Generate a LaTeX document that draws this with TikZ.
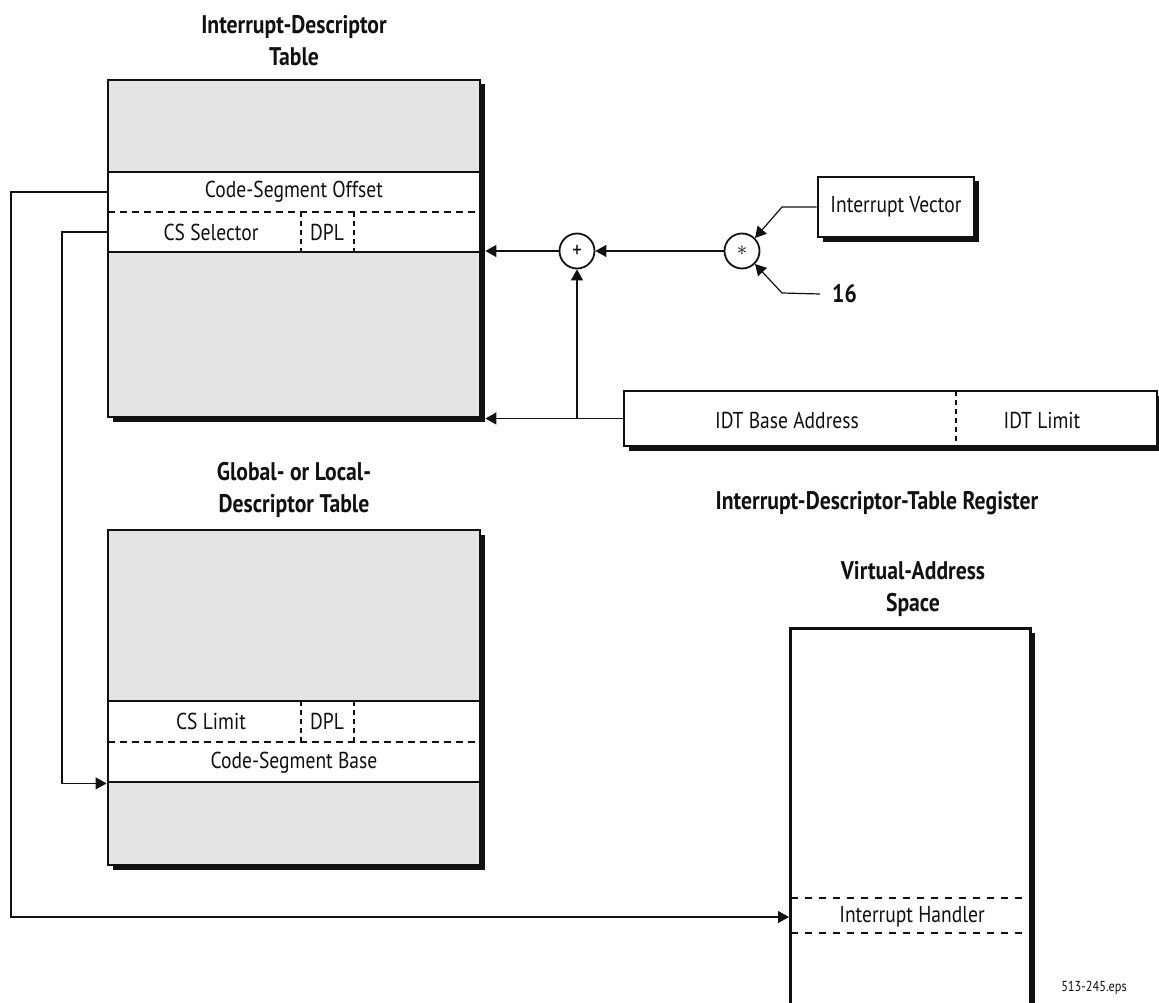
\documentclass[tikz,border=0pt]{standalone}
\usepackage{fontspec}
\setmainfont{PT Sans}[FakeStretch=0.85]
\usepackage{tikz}
\usetikzlibrary{arrows.meta,positioning,calc,shadows}
\definecolor{ink}{HTML}{111111}
\definecolor{tablebg}{HTML}{E4E4E4}

\tikzset{
  blackshadow/.style={drop shadow={shadow xshift=4.5pt,shadow yshift=-4.5pt,fill=ink,opacity=1}},
  tbl/.style={draw=ink,line width=2.8pt,fill=tablebg,minimum width=372pt,inner sep=0pt,blackshadow},
  rowbox/.style={draw=ink,line width=2.8pt,fill=white,minimum width=372pt,inner sep=0pt},
  regbox/.style={draw=ink,line width=2.8pt,fill=white,inner sep=0pt,blackshadow,txt},
  vbox/.style={draw=ink,line width=2.8pt,fill=white,inner sep=0pt,blackshadow},
  txt/.style={font=\fontsize{23}{27}\selectfont,text=ink},
  ttl/.style={font=\bfseries\fontsize{25.5}{32}\selectfont,align=center,text=ink},
  op/.style={circle,draw=ink,line width=1.8pt,fill=white,minimum size=35pt,inner sep=0pt,
             font=\fontsize{22}{22}\selectfont},
  wire/.style={draw=ink,line width=1.2pt,-{Triangle[length=11pt,width=12pt]}},
  rowdash/.style={draw=ink,line width=1.1pt,dash pattern=on 7pt off 5pt},
  dpldash/.style={draw=ink,line width=1.1pt,dash pattern=on 5pt off 4pt},
  handdash/.style={draw=ink,line width=2pt,dash pattern=on 7pt off 7pt}
}

\begin{document}
\begin{tikzpicture}[x=1pt,y=-1pt]
  \useasboundingbox (0,0) rectangle (1159,1003);

  % interrupt-descriptor table
  \node[ttl] (idtttl) at (294,41) {Interrupt-Descriptor\\Table};
  \node[tbl,minimum height=337pt] (idt) at (294,248.5) {};
  \node[rowbox,minimum height=80pt] (idtrow) at (294,212) {};
  \draw[rowdash] (108,212) -- (476,212);
  \node[txt] (cso) at (294,192) {Code-Segment Offset};
  \node[txt] (csel) at (211,232) {CS Selector};
  \node[txt] (idtdpl) at (327,232) {DPL};
  \draw[dpldash] (301,212) -- (301,252) (354,212) -- (354,252);

  % global- or local-descriptor table
  \node[ttl] (gdtttl) at (294,490) {Global- or Local-\\Descriptor Table};
  \node[tbl,minimum height=335pt] (gdt) at (294,697.5) {};
  \node[rowbox,minimum height=81pt] (gdtrow) at (294,741.5) {};
  \draw[rowdash] (108,742) -- (476,742);
  \node[txt] (cslim) at (211,721) {CS Limit};
  \node[txt] (gdtdpl) at (327,721) {DPL};
  \draw[dpldash] (301,701) -- (301,742) (354,701) -- (354,742);
  \node[txt] (csb) at (294,763) {Code-Segment Base};

  % virtual-address space
  \node[ttl] (vasttl) at (913,589) {Virtual-Address\\Space};
  \node[vbox,minimum width=240pt,minimum height=420pt,anchor=north west] (vas) at (789,627) {};
  \draw[handdash] (791,898) -- (1022,898) (791,933) -- (1022,933);
  \node[txt] (handler) at (912,917) {Interrupt Handler};

  % index calculation
  \node[op] (plus) at (577,251) {+};
  \node[op] (times) at (742,251) {$\ast$};
  \node[regbox,minimum width=156pt,minimum height=60pt] (ivec) at (896,207) {Interrupt Vector};
  \node[ttl,anchor=west,inner sep=0pt] (sixteen) at (832,294) {16};

  % register
  \node[regbox,minimum width=533pt,minimum height=55pt] (idtr) at (890.5,418.5) {};
  \draw[dpldash] (956,391) -- (956,446);
  \node[txt] (idtbase) at (787,420) {IDT Base Address};
  \node[txt] (idtlim) at (1042,420) {IDT Limit};
  \node[ttl] (idtrttl) at (877,503) {Interrupt-Descriptor-Table Register};

  \node[font=\fontsize{14.5}{15}\selectfont,text=ink] (eps) at (1094,988) {513-245.eps};

  % connectors
  \coordinate (outer) at (11,0);
  \coordinate (inner) at (62,0);
  \draw[wire] (ivec.west) -- (782,207) -- (times.north east);
  \draw[wire] ($(sixteen.west)+(-12,0)$) -- (782,293) -- (times.south east);
  \draw[wire] (times) -- (plus);
  \draw[wire] (plus) -- ($(plus -| idt.east)+(4,0)$);
  \draw[wire] (idtr.west) -- ($(idtr.west -| idt.east)+(4,0)$);
  \draw[wire] (idtr.west -| plus) -- (plus.south);
  \draw[wire] (cso -| idt.west) -- (cso -| outer) |- (handler -| vas.west);
  \draw[wire] (csel -| idt.west) -- (csel -| inner) |- (gdtrow.south west);
\end{tikzpicture}
\end{document}
